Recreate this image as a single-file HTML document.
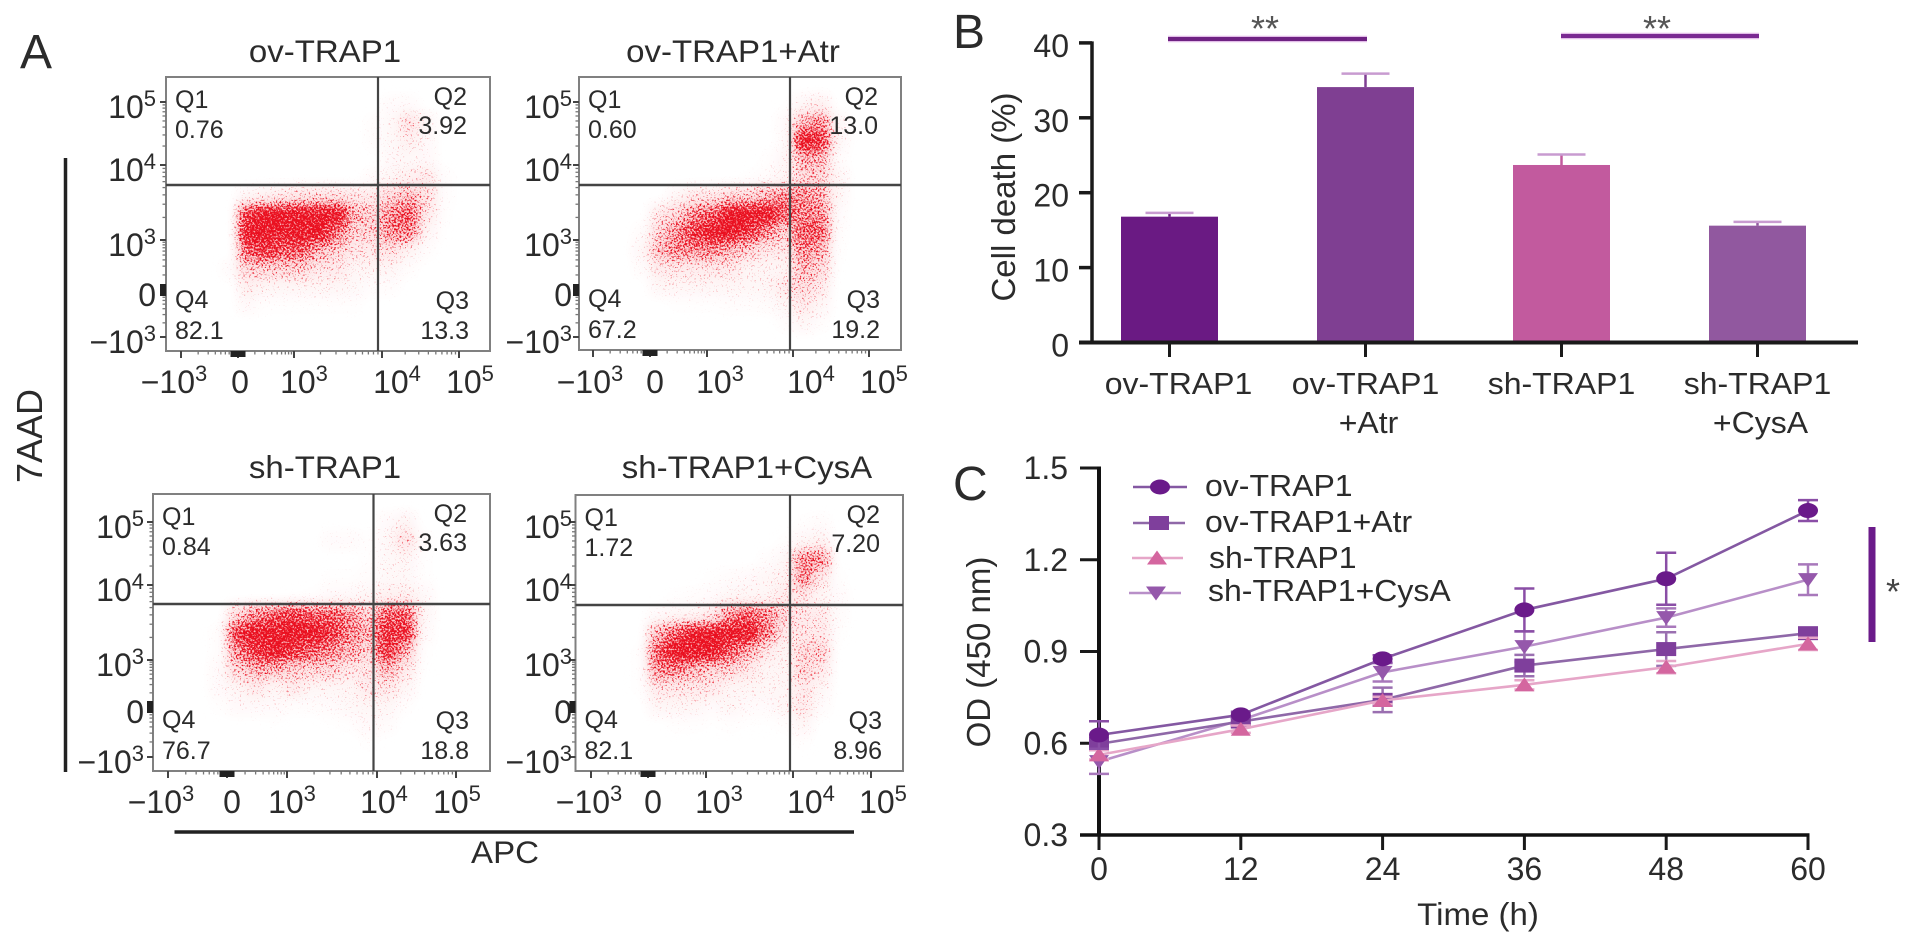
<!DOCTYPE html>
<html lang="en">
<head>
<meta charset="utf-8">
<title>TRAP1 flow cytometry, cell death and OD charts</title>
<style>
html,body{margin:0;padding:0;background:#fff;}
svg{display:block;}
text{font-family:"Liberation Sans",Arial,sans-serif;fill:#2b2b2b;}
</style>
</head>
<body>
<svg id="figure" xmlns="http://www.w3.org/2000/svg" width="1913" height="946" viewBox="0 0 1913 946">
  <defs>
    <filter id="speckle" filterUnits="userSpaceOnUse" x="0" y="0" width="1000" height="946" color-interpolation-filters="sRGB">
      <feGaussianBlur in="SourceGraphic" stdDeviation="5.5" result="soft"/>
      <feTurbulence type="fractalNoise" baseFrequency="0.55" numOctaves="2" seed="7" result="turb"/>
      <feColorMatrix in="turb" type="matrix" values="0 0 0 0 0  0 0 0 0 0  0 0 0 0 0  2.2 0 0 0 -0.6" result="noise"/>
      <feComposite in="soft" in2="noise" operator="arithmetic" k1="0" k2="1" k3="1" k4="-1" result="threshold"/>
      <feComponentTransfer in="threshold" result="dots"><feFuncA type="linear" slope="2.4"/></feComponentTransfer>
      <feFlood flood-color="#ea1020" result="red"/>
      <feComposite in="red" in2="dots" operator="in" result="speckled"/>
      <feComponentTransfer in="soft" result="pale"><feFuncA type="linear" slope="0.3"/></feComponentTransfer>
      <feMerge><feMergeNode in="pale"/><feMergeNode in="speckled"/></feMerge>
    </filter>
  </defs>
  <rect x="0" y="0" width="1913" height="946" fill="#ffffff"/>

  <text x="20" y="68" font-size="48">A</text>
  <text x="953" y="48" font-size="48">B</text>
  <text x="953" y="500" font-size="48">C</text>

  <g id="flow-density" filter="url(#speckle)"></g>
  <g id="flow-axes"></g>

  <line x1="65.5" y1="158" x2="65.5" y2="772" stroke="#222" stroke-width="3.5"/>
  <text transform="translate(42,436) rotate(-90)" text-anchor="middle" font-size="36">7AAD</text>
  <line x1="174.5" y1="832" x2="854" y2="832" stroke="#222" stroke-width="3.5"/>
  <text x="505" y="863" text-anchor="middle" font-size="33">APC</text>

  <g id="bar-chart"></g>
  <line x1="1168" y1="39" x2="1367" y2="39" stroke="#e2bde8" stroke-width="6.5"/>
  <line x1="1168" y1="39" x2="1367" y2="39" stroke="#6f2283" stroke-width="4"/>
  <text x="1265" y="41" text-anchor="middle" font-size="36" style="fill:#555">**</text>
  <line x1="1561" y1="36" x2="1759" y2="36" stroke="#e2bde8" stroke-width="6.5"/>
  <line x1="1561" y1="36" x2="1759" y2="36" stroke="#7a2a92" stroke-width="4"/>
  <text x="1657" y="41" text-anchor="middle" font-size="36" style="fill:#555">**</text>
  <text transform="translate(1015,197) rotate(-90)" text-anchor="middle" font-size="33">Cell death (%)</text>

  <g id="line-chart"></g>
  <text transform="translate(990,652) rotate(-90)" text-anchor="middle" font-size="33">OD (450 nm)</text>
  <text x="1478" y="925" text-anchor="middle" font-size="33">Time (h)</text>
  <line x1="1872" y1="527" x2="1872" y2="642" stroke="#6b1b8a" stroke-width="7"/>
  <text x="1893" y="604" text-anchor="middle" font-size="36" style="fill:#444">*</text>
</svg>

<script>
/* ---------- Flow cytometry: estimated event density per grid cell (0-9), rows top to bottom ---------- */
const densityOvTrap1 = [
  [0,0,0,0,0,0,0,0,0,0,0,0,0,0,0,0,0,0],
  [0,0,0,0,0,0,0,0,0,0,0,0,0.5,0.5,0,0,0,0],
  [0,0,0,0,0,0,0,0,0,0,0,0.3,0.8,2.5,1,0,0,0],
  [0,0,0,0,0,0,0,0,0,0,0,0.3,0.8,1.5,0.7,0,0,0],
  [0,0,0,0,0,0,0,0,0,0,0,0,0.7,0.8,0.7,0,0,0],
  [0,0,0,0,0,0,0,0,0,0,0,0.5,1,1.5,2,0.3,0,0],
  [0,0,0,0,1,1.5,2,2.5,2.5,2.5,2,2,3,4,2.5,0.3,0,0],
  [0,0,0,0,7,9,9,9,9,8,4,3,5,6,2,0.2,0,0],
  [0,0,0,0,9,9,9,9,8,5.5,3,3,5,5,1,0.1,0,0],
  [0,0,0,0,6,7,6,6,4,3,2,2,2.5,1.2,0.3,0,0,0],
  [0,0,0,0.5,3,3,3,3,2,2,1,1,1,0.3,0,0,0,0],
  [0,0,0,0,1.6,1,1,1,1,1,0.8,0.3,0.3,0,0,0,0,0],
  [0,0,0,0,0.7,0.2,0.2,0.2,0.2,0.2,0.2,0,0,0,0,0,0,0],
  [0,0,0,0,0,0,0,0,0,0,0,0,0,0,0,0,0,0],
  [0,0,0,0,0,0,0,0,0,0,0,0,0,0,0,0,0,0]
];
const densityOvTrap1Atr = [
  [0,0,0,0,0,0,0,0,0,0,0,0,0,0,0,0,0,0],
  [0,0,0,0,0,0,0,0,0,0,0,0.1,1,1.6,0,0,0,0],
  [0,0,0,0,0,0,0,0,0,0,0,0.6,4,5,1,0,0,0],
  [0,0,0,0,0,0,0,0,0,0,0,0.4,8,7,1,0,0,0],
  [0,0,0,0,0,0,0,0,0,0,0.2,1,4,4,0.3,0,0,0],
  [0,0,0,0,0,0,0,0,0,0.2,0.4,1,3,3,1,0,0,0],
  [0,0,0,0,0,1,2,2,3,3,4,5,5,4,1,0,0,0],
  [0,0,0,0,2,3,5,6,8,9,9,6,5,5,0.5,0,0,0],
  [0,0,0,0.4,3,5,7,8,9,7,5,3,6,6,0.3,0,0,0],
  [0,0,0,1,4,5,5,5,4,3,2,2,5,4,0.2,0,0,0],
  [0,0,0,0.4,2,2,2,2,2,1,1,1,4,3,0.1,0,0,0],
  [0,0,0,0,1,1,1,1,1,1,1,2,3,2,0,0,0,0],
  [0,0,0,0,0,0.2,0.2,0.2,0.3,0.3,0.4,1,2,1,0,0,0,0],
  [0,0,0,0,0,0,0,0,0,0,0,0.3,1,0.3,0,0,0,0],
  [0,0,0,0,0,0,0,0,0,0,0,0,0,0,0,0,0,0]
];
const densityShTrap1 = [
  [0,0,0,0,0,0,0,0,0,0,0,0,0,0,0,0,0,0],
  [0,0,0,0,0,0,0,0,0,0,0,0,0.6,1.2,0,0,0,0],
  [0,0,0,0,0,0,0,0,0,0.5,0.5,0.2,0.8,2.5,0.3,0,0,0],
  [0,0,0,0,0,0,0,0,0,0,0,0.2,0.8,1,0.2,0,0,0],
  [0,0,0,0,0,0,0,0,0,0.2,0.2,0.4,0.8,0.8,0.2,0,0,0],
  [0,0,0,0,0,0,0,0.1,0.2,0.6,0.7,1,1.5,1.5,0.8,0,0,0],
  [0,0,0,0,3,5,6,7,6,6,5,3,6,6,1,0,0,0],
  [0,0,0,0.3,7,9,9,9,9,7,5,4,7,7,0.6,0,0,0],
  [0,0,0,0.3,5,7,8,7,6,5,4,3,7,4,0.2,0,0,0],
  [0,0,0,0.6,3,4,4,3,3,3,2,2,4,2,0.1,0,0,0],
  [0,0,0,0.6,1,2,1,2,1,1,1,2,2,1,0,0,0,0],
  [0,0,0,0.2,0.7,0.6,0.6,0.3,0.3,0.5,0.8,1,1,0.2,0,0,0,0],
  [0,0,0,0,0,0,0.1,0,0,0.1,0.2,0.7,0.4,0,0,0,0,0],
  [0,0,0,0,0,0,0,0,0,0,0,0.2,0,0,0,0,0,0],
  [0,0,0,0,0,0,0,0,0,0,0,0,0,0,0,0,0,0]
];
const densityShTrap1CysA = [
  [0,0,0,0,0,0,0,0,0,0,0,0,0,0,0,0,0,0],
  [0,0,0,0,0,0,0,0,0,0,0,0,0.2,0.4,0,0,0,0],
  [0,0,0,0,0,0,0,0,0,0,0,0.2,1,1.3,0,0,0,0],
  [0,0,0,0,0,0,0,0,0,0,0.3,1,5,5,0,0,0,0],
  [0,0,0,0,0,0,0,0.2,0.4,0.6,1,1.2,5,2,0.2,0,0,0],
  [0,0,0,0,0,0.2,0.3,0.5,1,1,1,2,2,1,0.5,0,0,0],
  [0,0,0,0,0.6,1,1,2,5,6,5,3,2,2,0.4,0,0,0],
  [0,0,0,0,4,6,8,9,9,9,5,2,2,2,0.2,0,0,0],
  [0,0,0,0.2,6,8,9,8,6,4,2,1,3,3,0,0,0,0],
  [0,0,0,0.2,5,5,4,3,3,2,1,1,3,2,0,0,0,0],
  [0,0,0,0.2,2,2,2,2,1,1,1,1,2,1,0,0,0,0],
  [0,0,0,0,1,1,1,0.5,1,0.5,0.5,1,2,0.5,0,0,0,0],
  [0,0,0,0,0,0.2,0.2,0.1,0.2,0.1,0.1,0.2,1,0,0,0,0,0],
  [0,0,0,0,0,0,0,0,0,0,0,0,0.2,0,0,0,0,0],
  [0,0,0,0,0,0,0,0,0,0,0,0,0,0,0,0,0,0]
];
const flowTitles = ['ov-TRAP1','ov-TRAP1+Atr','sh-TRAP1','sh-TRAP1+CysA'];
const quadrantNames = ['Q1','Q2','Q3','Q4'];
const quadrantOvTrap1 = ['0.76','3.92','13.3','82.1'];
const quadrantOvTrap1Atr = ['0.60','13.0','19.2','67.2'];
const quadrantShTrap1 = ['0.84','3.63','18.8','76.7'];
const quadrantShTrap1CysA = ['1.72','7.20','8.96','82.1'];
const flowTickBase = ['\u221210','0','10','10','10'];
const flowTickExp = ['3','','3','4','5'];

/* ---------- Cell death bar chart ---------- */
const barCategories = [['ov-TRAP1'],['ov-TRAP1','+Atr'],['sh-TRAP1'],['sh-TRAP1','+CysA']];
const barValues = [16.8,34.1,23.7,15.6];
const barErrors = [0.5,1.8,1.4,0.5];
const barTicks = [0,10,20,30,40];

/* ---------- OD line chart ---------- */
const timePoints = [0,12,24,36,48,60];
const odTicks = ['0.3','0.6','0.9','1.2','1.5'];
const odOvTrap1 = [0.627,0.693,0.876,1.036,1.138,1.361];
const odOvTrap1Err = [0.045,0.01,0.012,0.07,0.085,0.034];
const odOvTrap1Atr = [0.598,0.671,0.742,0.854,0.908,0.960];
const odOvTrap1AtrErr = [0.02,0.012,0.04,0.035,0.055,0.015];
const odShTrap1 = [0.562,0.646,0.740,0.791,0.849,0.925];
const odShTrap1Err = [0.015,0.012,0.012,0.015,0.02,0.02];
const odShTrap1CysA = [0.540,0.676,0.832,0.916,1.011,1.135];
const odShTrap1CysAErr = [0.04,0.012,0.03,0.05,0.03,0.05];

const NS = 'http://www.w3.org/2000/svg';
function make(tag, attrs, parent, text) {
  const el = document.createElementNS(NS, tag);
  for (const k in attrs) el.setAttribute(k, attrs[k]);
  if (text !== undefined) el.textContent = text;
  parent.appendChild(el);
  return el;
}

/* ----- Flow panels ----- */
const flowDensities = [densityOvTrap1, densityOvTrap1Atr, densityShTrap1, densityShTrap1CysA];
const flowQuadrants = [quadrantOvTrap1, quadrantOvTrap1Atr, quadrantShTrap1, quadrantShTrap1CysA];
const flowLayouts = [
  {l:166,r:490,t:77,b:351,hy:185,vx:378,titleX:325,titleY:62,xT:[181,238,294,382,459],xL:[174,240,304,397,470],xB:393,yT:[337,290,240,165,102],yB:16,yR:156},
  {l:579,r:901,t:77,b:350,hy:185,vx:790,titleX:733,titleY:62,xT:[593,650,707,793,869],xL:[590,655,720,811,884],xB:393,yT:[337,290,240,165,102],yB:16,yR:572},
  {l:153,r:490,t:494,b:771,hy:604,vx:373.5,titleX:325,titleY:478,xT:[168,227,287,377,456],xL:[161,232,292,384,457],xB:813,yT:[757,707,660,585,522],yB:16,yR:144},
  {l:575.5,r:903,t:495,b:771,hy:605,vx:790,titleX:747,titleY:478,xT:[591,648,706,793,871],xL:[589,653,719,811,883],xB:813,yT:[757,707,660,585,522],yB:16,yR:572}
];
const densityLayer = document.getElementById('flow-density');
const axesLayer = document.getElementById('flow-axes');
const flowColumns = 18;
const flowRows = 15;

flowLayouts.forEach(function (p, i) {
  const density = flowDensities[i];
  const cellX = function (c) { return p.l + c * (p.r - p.l) / flowColumns; };
  const cellY = function (r) { return p.t + r * (p.b - p.t) / flowRows; };
  density.forEach(function (row, r) {
    row.forEach(function (d, c) {
      if (d <= 0) return;
      const cell = make('rect', {x: cellX(c), y: cellY(r), width: cellX(1) - cellX(0) + 0.4, height: cellY(1) - cellY(0) + 0.4, fill: '#ee0f1a', 'fill-opacity': Math.min(1, d / 8)}, densityLayer);
      
      
    });
  });

  const g = make('g', {}, axesLayer);
  
  

  const title = make('text', {x: p.titleX, y: p.titleY, 'text-anchor': 'middle', 'font-size': 33}, g, flowTitles[i]);
  
  

  const frame = make('rect', {x: p.l, y: p.t, width: p.r - p.l, height: p.b - p.t, fill: 'none', stroke: '#808080', 'stroke-width': 2}, g);
  
  

  const hGate = make('line', {x1: p.l, x2: p.r, y1: p.hy, y2: p.hy, stroke: '#444', 'stroke-width': 2.6}, g);
  
  

  const vGate = make('line', {x1: p.vx, x2: p.vx, y1: p.t, y2: p.b, stroke: '#444', 'stroke-width': 2.2}, g);
  
  

  flowTickBase.forEach(function (base, k) {
    const xt = make('line', {x1: p.xT[k], x2: p.xT[k], y1: p.b, y2: p.b + 7, stroke: '#444', 'stroke-width': 2}, g);
    
    

    const xl = make('text', {x: p.xL[k], y: p.xB, 'text-anchor': 'middle', 'font-size': 32}, g, base);
    
    
    if (flowTickExp[k]) make('tspan', {dy: -12, 'font-size': 22}, xl, flowTickExp[k]);

    const yt = make('line', {x1: p.l - 6, x2: p.l, y1: p.yT[k], y2: p.yT[k], stroke: '#444', 'stroke-width': 2}, g);
    
    

    const yl = make('text', {x: p.yR, y: p.yT[k] + p.yB, 'text-anchor': 'end', 'font-size': 32}, g, base);
    
    
    if (flowTickExp[k]) make('tspan', {dy: -12, 'font-size': 22}, yl, flowTickExp[k]);

    if (k < 4) {
      for (let m = 2; m < 10; m++) {
        const f = Math.log10(m);
        const mx = p.xT[k] + (p.xT[k + 1] - p.xT[k]) * f;
        const my = p.yT[k] + (p.yT[k + 1] - p.yT[k]) * f;
        const mtx = make('line', {x1: mx, x2: mx, y1: p.b, y2: p.b + 3.5, stroke: '#777', 'stroke-width': 1.3}, g);
        
        
        const mty = make('line', {x1: p.l - 3.5, x2: p.l, y1: my, y2: my, stroke: '#777', 'stroke-width': 1.3}, g);
        
        
      }
    }
  });

  const zeroX = make('rect', {x: p.xT[1] - 7.5, y: p.b, width: 15, height: 6, fill: '#222'}, g);
  
  
  const zeroY = make('rect', {x: p.l - 6, y: p.yT[1] - 6, width: 6, height: 12, fill: '#222'}, g);
  
  

  const vals = flowQuadrants[i];
  const leftX = p.l + 9;
  const rightX = p.r - 23;
  const q1 = make('text', {x: leftX, y: p.t + 31, 'font-size': 25}, g, quadrantNames[0]);
  
  
  const v1 = make('text', {x: leftX, y: p.t + 61, 'font-size': 25}, g, vals[0]);
  
  
  const q2 = make('text', {x: rightX, y: p.t + 28, 'text-anchor': 'end', 'font-size': 25}, g, quadrantNames[1]);
  
  
  const v2 = make('text', {x: rightX, y: p.t + 57, 'text-anchor': 'end', 'font-size': 25}, g, vals[1]);
  
  
  const q3 = make('text', {x: rightX + 2, y: p.b - 42, 'text-anchor': 'end', 'font-size': 25}, g, quadrantNames[2]);
  
  
  const v3 = make('text', {x: rightX + 2, y: p.b - 12, 'text-anchor': 'end', 'font-size': 25}, g, vals[2]);
  
  
  const q4 = make('text', {x: leftX, y: p.b - 43, 'font-size': 25}, g, quadrantNames[3]);
  
  
  const v4 = make('text', {x: leftX, y: p.b - 12, 'font-size': 25}, g, vals[3]);
  
  
});

/* ----- Bar chart ----- */
const barLayer = document.getElementById('bar-chart');
const barColors = ['#6a1a83','#7f3f92','#c25a9e','#91589f'];
const barLabelShift = [9,0,0,0];
function barX(i) { return 1169.5 + i * 196; }
function barY(v) { return 342.5 - v * 7.49; }

barValues.forEach(function (v, i) {
  const x = barX(i);
  const bar = make('rect', {x: x - 48.5, y: barY(v), width: 97, height: barY(0) - barY(v), fill: barColors[i]}, barLayer);
  
  

  const stem = make('line', {x1: x, x2: x, y1: barY(v), y2: barY(v + barErrors[i]), stroke: barColors[i], 'stroke-width': 2.5}, barLayer);
  
  

  const cap = make('line', {x1: x - 24, x2: x + 24, y1: barY(v + barErrors[i]), y2: barY(v + barErrors[i]), stroke: '#c89bd0', 'stroke-width': 2.5}, barLayer);
  
  

  const tick = make('line', {x1: x, x2: x, y1: barY(0), y2: 357, stroke: '#1a1a1a', 'stroke-width': 3}, barLayer);
  
  

  barCategories[i].forEach(function (line, n) {
    const lab = make('text', {x: x + (n === 0 ? barLabelShift[i] : 3), y: 394 + 39 * n, 'text-anchor': 'middle', 'font-size': 32}, barLayer, line);
    
    
  });
});

barTicks.forEach(function (t) {
  const tick = make('line', {x1: 1079, x2: 1092, y1: barY(t), y2: barY(t), stroke: '#1a1a1a', 'stroke-width': 3.5}, barLayer);
  
  
  const lab = make('text', {x: 1069, y: barY(t) + 14, 'text-anchor': 'end', 'font-size': 32}, barLayer, String(t));
  
  
});
const barYAxis = make('line', {x1: 1092, x2: 1092, y1: barY(40) - 1.5, y2: barY(0), stroke: '#1a1a1a', 'stroke-width': 3.5}, barLayer);


const barXAxis = make('line', {x1: 1079, x2: 1858, y1: barY(0), y2: barY(0), stroke: '#1a1a1a', 'stroke-width': 4}, barLayer);



/* ----- Line chart ----- */
const lineLayer = document.getElementById('line-chart');
function timeX(t) { return 1099 + t * (709 / 60); }
function odY(v) { return 835 - (v - 0.3) * 305.8; }

odTicks.forEach(function (t) {
  const y = odY(parseFloat(t));
  const tick = make('line', {x1: 1080, x2: 1099, y1: y, y2: y, stroke: '#1a1a1a', 'stroke-width': 3}, lineLayer);
  
  
  const lab = make('text', {x: 1068, y: y + 11, 'text-anchor': 'end', 'font-size': 32}, lineLayer, t);
  
  
});
timePoints.forEach(function (t) {
  const x = timeX(t);
  const tick = make('line', {x1: x, x2: x, y1: 835, y2: 850, stroke: '#1a1a1a', 'stroke-width': 3}, lineLayer);
  
  
  const lab = make('text', {x: x, y: 880, 'text-anchor': 'middle', 'font-size': 32}, lineLayer, String(t));
  
  
});
const odYAxis = make('line', {x1: 1099, x2: 1099, y1: odY(1.5) - 1.5, y2: 835, stroke: '#111', 'stroke-width': 4}, lineLayer);


const odXAxis = make('line', {x1: 1080, x2: timeX(60) + 1.5, y1: 835, y2: 835, stroke: '#111', 'stroke-width': 3.5}, lineLayer);



function drawMarker(shape, x, y, color, parent) {
  let m;
  if (shape === 'circle') m = make('ellipse', {cx: x, cy: y, rx: 10, ry: 7.5, fill: color}, parent);
  if (shape === 'square') m = make('rect', {x: x - 10, y: y - 7, width: 20, height: 14, fill: color}, parent);
  if (shape === 'up') m = make('polygon', {points: (x - 10) + ',' + (y + 6.5) + ' ' + (x + 10) + ',' + (y + 6.5) + ' ' + x + ',' + (y - 7.5), fill: color}, parent);
  if (shape === 'down') m = make('polygon', {points: (x - 10) + ',' + (y - 6.5) + ' ' + (x + 10) + ',' + (y - 6.5) + ' ' + x + ',' + (y + 7.5), fill: color}, parent);
  return m;
}

const odSeries = [
  {name: 'sh-TRAP1+CysA', key: 'sh-trap1-cysa', vals: odShTrap1CysA, errs: odShTrap1CysAErr, line: '#b88fc8', err: '#a878bb', mark: '#9558ab', shape: 'down'},
  {name: 'ov-TRAP1+Atr', key: 'ov-trap1-atr', vals: odOvTrap1Atr, errs: odOvTrap1AtrErr, line: '#8f68a8', err: '#9a6fb0', mark: '#7f3f9c', shape: 'square'},
  {name: 'sh-TRAP1', key: 'sh-trap1', vals: odShTrap1, errs: odShTrap1Err, line: '#e6a6c8', err: '#e6a6c8', mark: '#d4669f', shape: 'up'},
  {name: 'ov-TRAP1', key: 'ov-trap1', vals: odOvTrap1, errs: odOvTrap1Err, line: '#8458a2', err: '#8a4ea6', mark: '#6a1a8a', shape: 'circle'}
];
odSeries.forEach(function (s) {
  const g = make('g', {}, lineLayer);
  
  
  const pts = s.vals.map(function (v, i) { return timeX(timePoints[i]) + ',' + odY(v); }).join(' ');
  const path = make('polyline', {points: pts, fill: 'none', stroke: s.line, 'stroke-width': 2.6}, g);
  
  
  s.vals.forEach(function (v, i) {
    const x = timeX(timePoints[i]);
    const stem = make('line', {x1: x, x2: x, y1: odY(v - s.errs[i]), y2: odY(v + s.errs[i]), stroke: s.err, 'stroke-width': 2.5}, g);
    
    
    const top = make('line', {x1: x - 10, x2: x + 10, y1: odY(v + s.errs[i]), y2: odY(v + s.errs[i]), stroke: s.err, 'stroke-width': 2.5}, g);
    
    
    const bot = make('line', {x1: x - 10, x2: x + 10, y1: odY(v - s.errs[i]), y2: odY(v - s.errs[i]), stroke: s.err, 'stroke-width': 2.5}, g);
    
    
    const m = drawMarker(s.shape, x, odY(v), s.mark, g);
    
    
  });
});

const legendEntries = [
  {s: odSeries[3], y: 487, x1: 1133, x2: 1187, mx: 1160, textX: 1205, textY: 496},
  {s: odSeries[1], y: 523, x1: 1133, x2: 1185, mx: 1159, textX: 1205, textY: 532},
  {s: odSeries[2], y: 558, x1: 1132, x2: 1183, mx: 1157, textX: 1209, textY: 568},
  {s: odSeries[0], y: 593, x1: 1129, x2: 1181, mx: 1156, textX: 1208, textY: 601}
];
legendEntries.forEach(function (e) {
  const g = make('g', {}, lineLayer);
  
  
  const ln = make('line', {x1: e.x1, x2: e.x2, y1: e.y, y2: e.y, stroke: e.s.line, 'stroke-width': 2.6}, g);
  
  
  const m = drawMarker(e.s.shape, e.mx, e.y, e.s.mark, g);
  
  
  const t = make('text', {x: e.textX, y: e.textY, 'font-size': 32}, g, e.s.name);
  
  
});

/* The source figure is slightly wider than tall: narrow the glyph height, keep the horizontal extent. */
document.querySelectorAll('#figure text').forEach(function (t) {
  const fs = parseFloat(t.getAttribute('font-size'));
  if (t.hasAttribute('transform') || fs < 32 || fs > 40 || !/[A-Za-z]/.test(t.textContent)) return;
  const x = t.getAttribute('x');
  const y = t.getAttribute('y');
  t.setAttribute('font-size', fs * 0.95);
  t.setAttribute('transform', 'translate(' + x + ',' + y + ') scale(1.053,1) translate(' + (-x) + ',' + (-y) + ')');
});
</script>
</body>
</html>
